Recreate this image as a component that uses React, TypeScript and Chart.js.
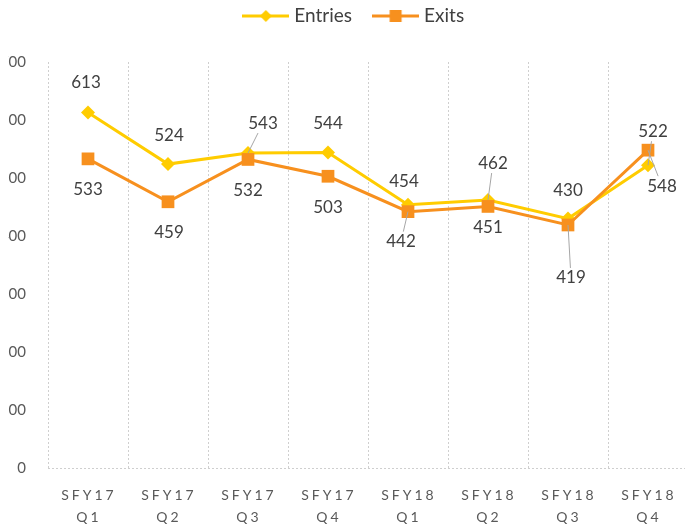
import React, { useEffect, useRef } from 'react';
import { Chart, registerables } from 'chart.js';

Chart.register(...registerables);

// ---- data ----
const categoryTop = ['SFY17', 'SFY17', 'SFY17', 'SFY17', 'SFY18', 'SFY18', 'SFY18', 'SFY18'];
const categoryBottom = ['Q1', 'Q2', 'Q3', 'Q4', 'Q1', 'Q2', 'Q3', 'Q4'];
const entries = [613, 524, 543, 544, 454, 462, 430, 522];
const exits = [533, 459, 532, 503, 442, 451, 419, 548];
const yMin = 0;
const yMax = 700;
const yStep = 100;

// ---- label placement (style) ----
const entriesLabelOffsets = [[-2, -30], [1, -29], [15, -30], [0, -29], [-4, -23], [5, -37], [0, -28], [5, -34]];
const exitsLabelOffsets = [[0, 31], [1, 31], [0, 31], [0, 31], [-7, 30], [0, 21], [3, 53], [14, 36]];
const entriesLeaders = [false, false, true, false, false, true, false, true];
const exitsLeaders = [false, false, false, false, true, false, true, true];

const ENTRIES_COLOR = '#FFCC00';
const EXITS_COLOR = '#F7901E';
const FONT = 'Lato, "Open Sans", sans-serif';

function legendImage(color: string, kind: 'diamond' | 'square') {
  const c = document.createElement('canvas');
  c.width = 47;
  c.height = 14;
  const g = c.getContext('2d')!;
  g.strokeStyle = color;
  g.lineWidth = 3;
  g.beginPath();
  g.moveTo(0, 7);
  g.lineTo(47, 7);
  g.stroke();
  g.fillStyle = color;
  if (kind === 'diamond') {
    g.beginPath();
    g.moveTo(23.5, 1);
    g.lineTo(29.5, 7);
    g.lineTo(23.5, 13);
    g.lineTo(17.5, 7);
    g.closePath();
    g.fill();
  } else {
    g.fillRect(17.5, 1, 12, 12);
  }
  return c;
}

const dataLabelPlugin = {
  id: 'dataLabels',
  afterDatasetsDraw(chart: any) {
    const ctx = chart.ctx;
    const configs = [
      { offsets: entriesLabelOffsets, leaders: entriesLeaders, values: entries },
      { offsets: exitsLabelOffsets, leaders: exitsLeaders, values: exits },
    ];
    ctx.save();
    ctx.font = `17px ${FONT}`;
    ctx.textAlign = 'center';
    ctx.textBaseline = 'middle';
    configs.forEach((cfg, di) => {
      const meta = chart.getDatasetMeta(di);
      meta.data.forEach((pt: any, i: number) => {
        const [dx, dy] = cfg.offsets[i];
        const lx = pt.x + dx;
        const ly = pt.y + dy;
        const text = String(cfg.values[i]);
        if (cfg.leaders[i]) {
          const w = ctx.measureText(text).width / 2 + 3;
          const h = 10;
          const vx = pt.x - lx;
          const vy = pt.y - ly;
          const s = Math.min(vx !== 0 ? w / Math.abs(vx) : Infinity, vy !== 0 ? h / Math.abs(vy) : Infinity);
          ctx.strokeStyle = '#A6A6A6';
          ctx.lineWidth = 1;
          ctx.beginPath();
          ctx.moveTo(pt.x, pt.y);
          ctx.lineTo(lx + vx * s, ly + vy * s);
          ctx.stroke();
        }
        ctx.fillStyle = '#404040';
        ctx.fillText(text, lx, ly);
      });
    });
    ctx.restore();
  },
};

const xLabelPlugin = {
  id: 'xLabels',
  afterDraw(chart: any) {
    const ctx = chart.ctx;
    const xs = chart.scales.x;
    ctx.save();
    ctx.font = `14px ${FONT}`;
    (ctx as any).letterSpacing = '3px';
    ctx.fillStyle = '#595959';
    ctx.textAlign = 'center';
    ctx.textBaseline = 'middle';
    categoryTop.forEach((t, i) => {
      const x = xs.getPixelForTick(i) + 1;
      ctx.fillText(t, x, xs.top + 27);
      ctx.fillText(categoryBottom[i], x, xs.top + 49);
    });
    ctx.restore();
  },
};

export default function App() {
  const ref = useRef<HTMLCanvasElement>(null);
  useEffect(() => {
    document.body.style.margin = '0 0 0 8px';
    const chart = new Chart(ref.current!, {
      type: 'line',
      data: {
        labels: categoryTop.map((t, i) => `${t} ${categoryBottom[i]}`),
        datasets: [
          {
            label: 'Entries',
            data: entries,
            borderColor: ENTRIES_COLOR,
            backgroundColor: ENTRIES_COLOR,
            borderWidth: 3,
            pointStyle: 'rectRot',
            pointRadius: 7,
            pointBorderWidth: 0,
            tension: 0,
            order: 1,
          },
          {
            label: 'Exits',
            data: exits,
            borderColor: EXITS_COLOR,
            backgroundColor: EXITS_COLOR,
            borderWidth: 3,
            pointStyle: 'rect',
            pointRadius: 9,
            pointBorderWidth: 0,
            tension: 0,
            order: 0,
          },
        ],
      },
      options: {
        responsive: false,
        animation: false,
        layout: { padding: { top: -18, left: 0, right: 0, bottom: 0 } },
        plugins: {
          legend: {
            position: 'top',
            labels: {
              font: { family: FONT, size: 19 },
              color: '#404040',
              padding: 24.5,
              usePointStyle: true,
              pointStyleWidth: 38,
              generateLabels: () => [
                { text: 'Entries', pointStyle: legendImage(ENTRIES_COLOR, 'diamond'), datasetIndex: 0, fillStyle: ENTRIES_COLOR, strokeStyle: ENTRIES_COLOR, lineWidth: 0, fontColor: '#404040' },
                { text: 'Exits', pointStyle: legendImage(EXITS_COLOR, 'square'), datasetIndex: 1, fillStyle: EXITS_COLOR, strokeStyle: EXITS_COLOR, lineWidth: 0, fontColor: '#404040' },
              ] as any,
            },
          },
          title: {
            display: true,
            text: '',
            weight: 500,
            font: { size: 10, lineHeight: 1 },
            padding: { top: 0, bottom: 16.5 },
          } as any,
          tooltip: { enabled: false },
        },
        scales: {
          x: {
            offset: true,
            grid: { display: true, offset: true, color: '#CFCFCF', lineWidth: 1, drawTicks: false },
            border: { display: false, dash: [2, 2] },
            ticks: { display: false },
            afterFit: (s: any) => { s.height = 61; },
          },
          y: {
            min: yMin,
            max: yMax,
            grid: {
              display: true,
              drawTicks: false,
              color: (c: any) => (c.tick && c.tick.value === 0 ? '#CFCFCF' : 'rgba(0,0,0,0)'),
            },
            border: { display: false, dash: [2, 2] },
            ticks: {
              stepSize: yStep,
              padding: 22,
              color: '#595959',
              font: { family: FONT, size: 15 },
            },
            afterFit: (s: any) => { s.width = 40; },
          },
          yRight: {
            position: 'right',
            display: true,
            grid: { display: false, drawTicks: false },
            border: { display: false },
            ticks: { display: false },
            afterFit: (s: any) => { s.width = 15; },
          },
        },
      },
      plugins: [dataLabelPlugin, xLabelPlugin],
    });
    return () => chart.destroy();
  }, []);
  return (
    <div style={{ position: 'relative', width: 677, height: 529, overflow: 'hidden', background: '#fff' }}>
      <canvas ref={ref} width={695} height={529} style={{ position: 'absolute', left: 0, top: 0 }} />
    </div>
  );
}
